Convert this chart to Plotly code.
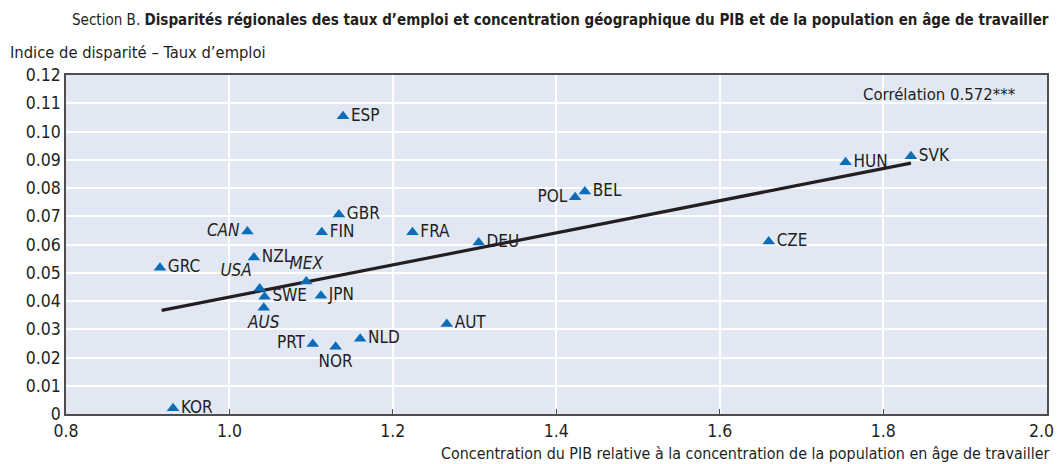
import plotly.graph_objects as go

countries = ["KOR", "GRC", "CAN", "NZL", "USA", "SWE", "AUS", "MEX", "JPN", "FIN", "GBR", "ESP",
             "PRT", "NOR", "NLD", "FRA", "AUT", "DEU", "POL", "BEL", "CZE", "HUN", "SVK"]
gdp_conc = [0.931, 0.915, 1.022, 1.030, 1.037, 1.043, 1.042, 1.094, 1.112, 1.113, 1.134, 1.139,
            1.102, 1.130, 1.160, 1.224, 1.266, 1.305, 1.423, 1.435, 1.660, 1.754, 1.834]
disparity = [0.002, 0.0518, 0.0646, 0.0554, 0.0444, 0.0415, 0.0376, 0.0469, 0.0419, 0.0643, 0.0706, 0.1054,
             0.0248, 0.0238, 0.0266, 0.0643, 0.0319, 0.0607, 0.0767, 0.0788, 0.0611, 0.0891, 0.0912]
italic = ["CAN", "USA", "MEX", "AUS"]
label_pos = {"CAN": "middle left", "POL": "middle left", "PRT": "middle left",
             "NOR": "bottom center", "AUS": "bottom center", "USA": "top left", "MEX": "top center"}

trend_x = [0.917, 1.834]
trend_y = [0.0367, 0.0888]

x_ticks = [0.8, 1.0, 1.2, 1.4, 1.6, 1.8, 2.0]
x_tick_labels = ["0.8", "1.0", "1.2", "1.4", "1.6", "1.8", "2.0\u00a0\u00a0"]
y_ticks = [0, 0.01, 0.02, 0.03, 0.04, 0.05, 0.06, 0.07, 0.08, 0.09, 0.10, 0.11, 0.12]
y_tick_labels = ["0", "0.01", "0.02", "0.03", "0.04", "0.05", "0.06", "0.07", "0.08", "0.09", "0.10", "0.11", "0.12"]

FONT = "Liberation Sans Narrow, Arial Narrow, DejaVu Sans Condensed, sans-serif"
BLUE = "#0b6cb8"

texts = [f"<i>{c}</i>" if c in italic else c for c in countries]
positions = [label_pos.get(c, "middle right") for c in countries]

fig = go.Figure()
fig.add_trace(go.Scatter(x=trend_x, y=trend_y, mode="lines",
                         line=dict(color="#231f20", width=3.2), hoverinfo="skip", showlegend=False))
fig.add_trace(go.Scatter(x=gdp_conc, y=disparity, mode="markers+text", text=texts,
                         textposition=positions, cliponaxis=False,
                         textfont=dict(family=FONT, size=17, color="#231f20"),
                         marker=dict(symbol="triangle-up", size=11, color=BLUE),
                         showlegend=False))

fig.update_layout(
    width=1059, height=464,
    margin=dict(l=66, r=10, t=75, b=50),
    paper_bgcolor="white", plot_bgcolor="#e1e8f4",
    font=dict(family=FONT, size=16, color="#231f20"),
    xaxis=dict(range=[0.8, 2.0005], tickvals=x_ticks, ticktext=x_tick_labels,
               showgrid=True, gridcolor="white", gridwidth=1.5, zeroline=False,
               showline=True, linecolor="#4d4d4d", linewidth=1.5, mirror=True,
               ticks="inside", ticklen=5, tickcolor="#4d4d4d",
               ticklabeloverflow="allow", automargin=False,
               tickfont=dict(family=FONT, size=17.5)),
    yaxis=dict(range=[0, 0.12], tickvals=y_ticks, ticktext=y_tick_labels,
               showgrid=True, gridcolor="white", gridwidth=1.5, zeroline=False,
               showline=True, linecolor="#4d4d4d", linewidth=1.5, mirror=True,
               ticks="", tickfont=dict(family=FONT, size=17.5)),
    annotations=[
        dict(text="Section B. <b>Disparités régionales des taux d’emploi et concentration géographique du PIB et de la population en âge de travailler</b>",
             xref="paper", yref="paper", x=1.0, xshift=4, y=1.0, yshift=55, xanchor="right", yanchor="middle",
             showarrow=False, font=dict(family=FONT, size=15.05)),
        dict(text="Indice de disparité – Taux d’emploi", xref="paper", yref="paper",
             x=0, xshift=-58, y=1.0, yshift=23, xanchor="left", yanchor="middle",
             showarrow=False, font=dict(family=FONT, size=16.4)),
        dict(text="Corrélation 0.572***", xref="paper", yref="paper",
             x=1.0, xshift=-29, y=1.0, yshift=-19, xanchor="right", yanchor="middle",
             showarrow=False, font=dict(family=FONT, size=16.6)),
        dict(text="Concentration du PIB relative à la concentration de la population en âge de travailler",
             xref="paper", yref="paper", x=1.0, xshift=5, y=0, yshift=-39, xanchor="right", yanchor="middle",
             showarrow=False, font=dict(family=FONT, size=15.9)),
    ],
)

fig.write_html("out.html", config={"displayModeBar": False},
               post_script="document.body.style.margin='0';document.body.style.overflow='hidden';")
